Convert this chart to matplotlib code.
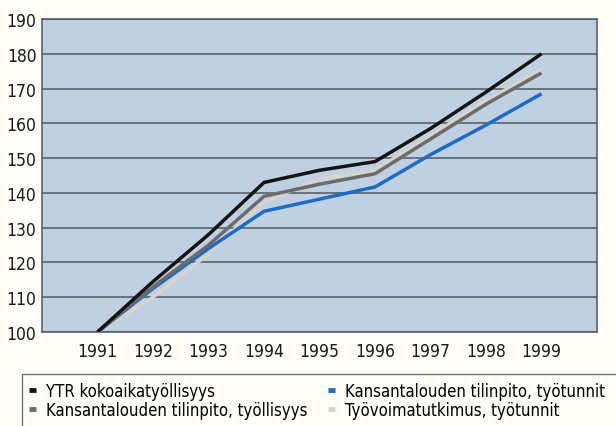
import numpy as np
import matplotlib.pyplot as plt
from matplotlib.patches import Rectangle
from matplotlib.lines import Line2D

plt.rcParams['font.family'] = ['DejaVu Sans']
plt.rcParams['font.stretch'] = 'condensed'

vuodet = [1991, 1992, 1993, 1994, 1995, 1996, 1997, 1998, 1999]
ytr = [100, 114.5, 128, 143, 146.5, 149, 158.5, 169, 180]
kt_tyollisyys = [100, 113, 125, 139, 142.5, 145.5, 155.5, 165.5, 174.5]
kt_tyotunnit = [100, 112.5, 124, 134.7, 138.2, 141.7, 151, 159.5, 168.5]
tyovoima = [100, 110, 122.5, 137.5, 144, 146.5, 156.5, 166.5, 175.5]

nimet = ['YTR kokoaikatyöllisyys',
         'Kansantalouden tilinpito, työllisyys',
         'Kansantalouden tilinpito, työtunnit',
         'Työvoimatutkimus, työtunnit']
varit = ['#141414', '#6b6b6b', '#1f6bc4', '#d6d4cc']

fig = plt.figure(figsize=(6.16, 4.27), dpi=100, facecolor='#fdfcf7')
ax = fig.add_axes([42/616, 1-333/427, (597-42)/616, (333-20)/427])
ax.set_facecolor('#bfd0e2')

sarjat = [ytr, kt_tyollisyys, kt_tyotunnit, tyovoima]
# piirretään vaalea ensin jotta muut jäävät päälle
for i in [3, 2, 1, 0]:
    ax.plot(vuodet, sarjat[i], color=varit[i], lw=2.5, solid_capstyle='butt', zorder=3)

ax.set_xlim(1990, 2000)
ax.set_ylim(100, 190)
ax.set_yticks(range(100, 191, 10))
ax.set_xticks(vuodet)
ax.yaxis.grid(True, color='#4f5860', lw=1.1)
ax.set_axisbelow(True)
ax.tick_params(length=0, labelsize=12.5, colors='#1a1a1a')
ax.tick_params(axis='y', pad=4)
ax.tick_params(axis='x', pad=7)
for s in ax.spines.values():
    s.set_color('#4f5860')
    s.set_linewidth(1.1)

# selitelaatikko
fig.patches.append(Rectangle((22/616, -0.05), 0.99, 1-375/427+0.05, transform=fig.transFigure,
                             facecolor='none', edgecolor='#777777', lw=1.0))
kahvat = [Line2D([], [], color=c, lw=3.5, solid_capstyle='butt') for c in varit]
fig.legend(kahvat, nimet, ncol=2, loc='upper left', bbox_to_anchor=(0.028, 0.13),
           frameon=False, fontsize=12, handlelength=0.45, handletextpad=0.6,
           columnspacing=1.2, labelspacing=0.05, borderpad=0.2)

fig.savefig('out.png', dpi=100, facecolor=fig.get_facecolor())
